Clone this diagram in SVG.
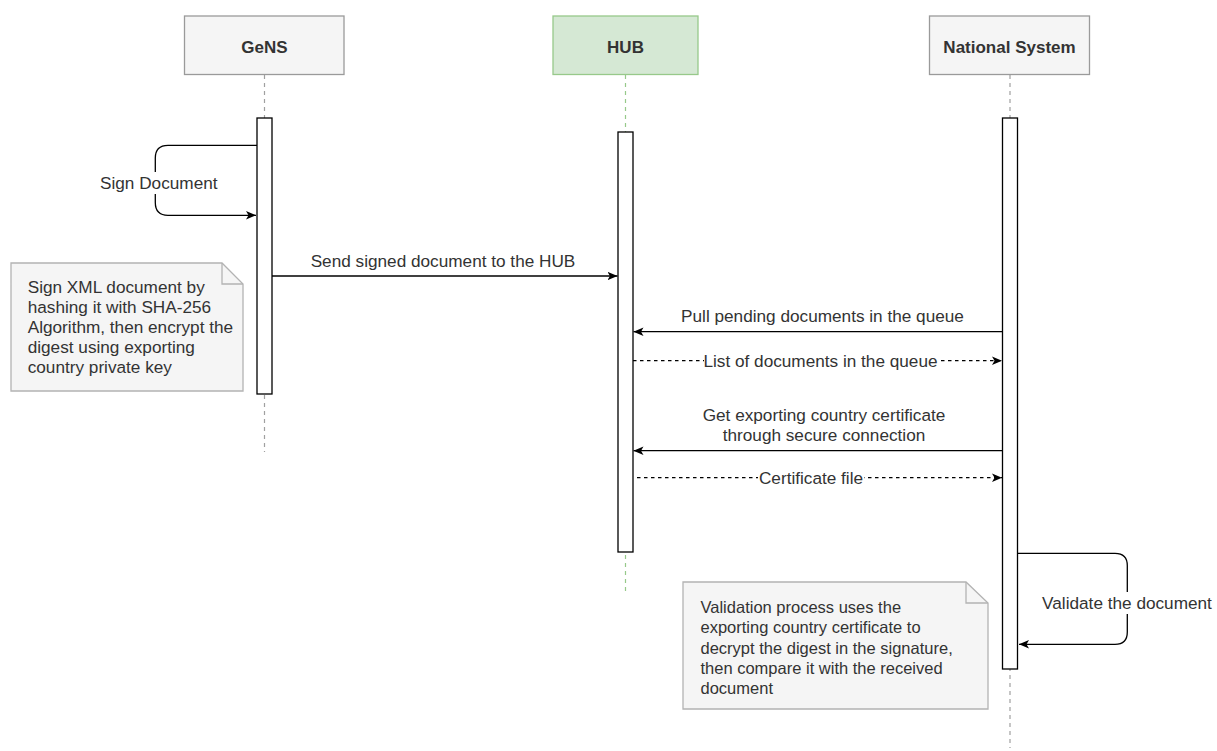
<svg xmlns="http://www.w3.org/2000/svg" width="1217" height="751" viewBox="0 0 1217 751">
<style>
text{font-family:"Liberation Sans",Arial,Helvetica,sans-serif;font-size:17.2px;fill:#333333}
.hdr{font-weight:bold;text-anchor:middle;font-size:17px}
.mid{text-anchor:middle}
.n2{font-size:16.5px}
.box{fill:#f5f5f5;stroke:#9a9a9a;stroke-width:1.3}
.hub{fill:#d5e8d4;stroke:#97c98a;stroke-width:1.3}
.life{stroke:#a0a0a0;stroke-width:1.2;stroke-dasharray:4 4;fill:none}
.lifeg{stroke:#97c98a;stroke-width:1.2;stroke-dasharray:4 4;fill:none}
.act{fill:#ffffff;stroke:#000000;stroke-width:1.3}
.note{fill:#f5f5f5;stroke:#b3b3b3;stroke-width:1.3}
.msg{stroke:#000000;stroke-width:1.3;fill:none;marker-end:url(#arr)}
.ret{stroke:#000000;stroke-width:1.3;fill:none;stroke-dasharray:3.5 3.5;marker-end:url(#arr)}
.bg{fill:#ffffff}
</style>
<defs>
<marker id="arr" markerUnits="userSpaceOnUse" markerWidth="10" markerHeight="10" viewBox="0 0 10 10" refX="10" refY="5" orient="auto">
<path d="M0,0.8 L10,5 L0,9.2 L2.5,5 z" fill="#000000"/>
</marker>
</defs>
<rect width="1217" height="751" fill="#ffffff"/>

<g id="gens">
<line class="life" x1="264.5" y1="75" x2="264.5" y2="452"/>
<rect class="box" x="184.5" y="16" width="159.5" height="58.5"/>
<text class="hdr" x="264.5" y="52.5">GeNS</text>
<rect class="act" x="257" y="118" width="15" height="276"/>
</g>

<g id="hub">
<line class="lifeg" x1="625.5" y1="75" x2="625.5" y2="592"/>
<rect class="hub" x="553" y="16" width="145" height="58.5"/>
<text class="hdr" x="625.5" y="52.5">HUB</text>
<rect class="act" x="618" y="132" width="15" height="420"/>
</g>

<g id="ns">
<line class="life" x1="1010" y1="75" x2="1010" y2="748"/>
<rect class="box" x="929.5" y="16" width="160" height="58.5"/>
<text class="hdr" x="1009.5" y="52.5">National System</text>
<rect class="act" x="1002.5" y="118" width="15" height="551"/>
</g>

<g id="note-sign">
<path class="note" d="M11,263 H222 L243,284 V391 H11 Z"/>
<path d="M222,263 V284 H243" fill="none" stroke="#b3b3b3" stroke-width="1.3"/>
<text x="27.7" y="293">Sign XML document by</text>
<text x="27.7" y="313">hashing it with SHA-256</text>
<text x="27.7" y="333">Algorithm, then encrypt the</text>
<text x="27.7" y="353">digest using exporting</text>
<text x="27.7" y="373">country private key</text>
</g>

<g id="note-validate">
<path class="note" d="M683,582 H966 L988,603 V709 H683 Z"/>
<path d="M966,582 V603 H988" fill="none" stroke="#b3b3b3" stroke-width="1.3"/>
<text class="n2" x="700.5" y="613">Validation process uses the</text>
<text class="n2" x="700.5" y="633">exporting country certificate to</text>
<text class="n2" x="700.5" y="653.5">decrypt the digest in the signature,</text>
<text class="n2" x="700.5" y="674">then compare it with the received</text>
<text class="n2" x="700.5" y="694">document</text>
</g>

<g id="connectors">
<path class="msg" d="M257,145.3 H168 Q155.3,145.3 155.3,158 V202.5 Q155.3,215.3 168,215.3 H256"/>
<rect class="bg" x="97" y="172" width="124" height="22"/>
<text class="mid" x="158.8" y="189">Sign Document</text>

<line class="msg" x1="272" y1="276" x2="617.5" y2="276"/>
<text class="mid" x="443" y="267.3">Send signed document to the HUB</text>

<line class="msg" x1="1002.5" y1="331.7" x2="633.5" y2="331.7"/>
<text class="mid" x="822.5" y="321.5">Pull pending documents in the queue</text>

<line class="ret" x1="633" y1="360.7" x2="1002" y2="360.7"/>
<rect class="bg" x="704" y="351" width="234" height="20"/>
<text class="mid" x="820.5" y="366.5">List of documents in the queue</text>

<line class="msg" x1="1002.5" y1="450.7" x2="633.5" y2="450.7"/>
<text class="mid" x="824" y="420.5">Get exporting country certificate</text>
<text class="mid" x="824" y="440.5">through secure connection</text>

<line class="ret" x1="637" y1="477.7" x2="1002" y2="477.7"/>
<rect class="bg" x="758" y="468" width="106" height="20"/>
<text class="mid" x="811" y="483.5">Certificate file</text>

<path class="msg" d="M1017.5,553.3 H1115 Q1127.3,553.3 1127.3,565.6 V632 Q1127.3,644.3 1115,644.3 H1019"/>
<rect class="bg" x="1041" y="592" width="171" height="22"/>
<text class="mid" x="1127" y="608.5">Validate the document</text>
</g>
</svg>
